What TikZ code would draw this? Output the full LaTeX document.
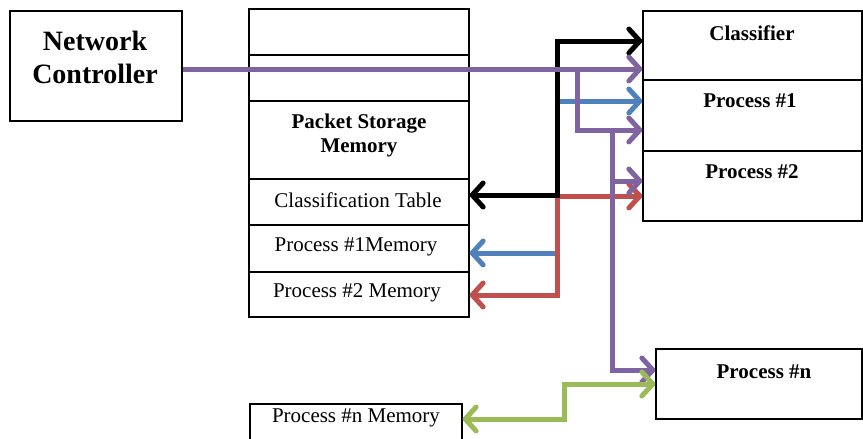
\documentclass[tikz,border=0pt]{standalone}
\usepackage{fontspec}
\setmainfont{Liberation Serif}
\usetikzlibrary{arrows.meta}
\definecolor{cpurple}{RGB}{128,100,162}
\definecolor{cblue}{RGB}{79,129,189}
\definecolor{cred}{RGB}{192,80,77}
\definecolor{cgreen}{RGB}{155,187,89}
\begin{document}
\begin{tikzpicture}[x=1pt,y=-1pt,
  box/.style={draw=black,line width=1.3pt,rectangle,inner sep=0pt},
  lbl/.style={font=\fontsize{21}{24}\selectfont,align=center,inner sep=0pt},
  blbl/.style={font=\fontsize{21}{24}\selectfont\bfseries,align=center,inner sep=0pt},
  biglbl/.style={font=\fontsize{28}{33}\selectfont\bfseries,align=center,inner sep=0pt},
  conn/.style={line width=5pt,line join=miter},
  >={Straight Barb[round,length=11pt,width=24pt]}
]
\useasboundingbox (0,0) rectangle (863,439);

% Network controller
\node[box,minimum width=172pt,minimum height=110pt] (nc) at (96,66) {};
\node[biglbl] (ncT) at (95,57) {Network\\Controller};

% memory stack
\node[box,minimum width=220pt,minimum height=46pt] (m0) at (359,32) {};
\node[box,minimum width=220pt,minimum height=46pt] (m1) at (359,78) {};
\node[box,minimum width=220pt,minimum height=78pt] (m2) at (359,140) {};
\node[box,minimum width=220pt,minimum height=46pt] (m3) at (359,202) {};
\node[box,minimum width=220pt,minimum height=47pt] (m4) at (359,248.5) {};
\node[box,minimum width=220pt,minimum height=45pt] (m5) at (359,294.5) {};
\node[blbl] (m2T) at (359,135) {Packet Storage\\Memory};
\node[lbl] (m3T) at (358,200) {Classification Table};
\node[lbl] (m4T) at (356,247) {Process \#1Memory};
\node[lbl] (m5T) at (357,293) {Process \#2 Memory};

% right boxes
\node[box,minimum width=219pt,minimum height=69pt] (cls) at (752.5,45.5) {};
\node[box,minimum width=219pt,minimum height=71pt] (p1) at (752.5,115.5) {};
\node[box,minimum width=219pt,minimum height=70pt] (p2) at (752.5,186) {};
\node[blbl] (clsT) at (752,33) {Classifier};
\node[blbl] (p1T) at (750,101) {Process \#1};
\node[blbl] (p2T) at (752,172) {Process \#2};

\node[box,minimum width=206pt,minimum height=70pt] (pn) at (759,384) {};
\node[blbl] (pnT) at (764,372) {Process \#n};

\node[box,minimum width=212pt,minimum height=38pt] (pnm) at (356,423) {};
\node[lbl] (pnmT) at (356,418) {Process \#n Memory};

% bend coordinates
\coordinate (busTop) at (557,41);
\coordinate (busCT) at (557,195);
\coordinate (busB1) at (557,101);
\coordinate (busB2) at (557,253);
\coordinate (busR1) at (557,196);
\coordinate (busR2) at (557,295);
\coordinate (pv1) at (577,69);
\coordinate (pv2) at (577,130);
\coordinate (pv3) at (612,130);
\coordinate (pv4) at (612,370);
\coordinate (pv5) at (612,181);
\coordinate (g1) at (564,419);
\coordinate (g2) at (564,384);

% blue
\draw[conn,cblue,<->] (m4.east |- busB2) -- (busB2) -- (busB1) -- (p1.west |- busB1);
% red
\draw[conn,cred,<->] (m5.east |- busR2) -- (busR2) -- (busR1) -- (p2.west |- busR1);
% black
\draw[conn,black,<->] (m3.east |- busCT) -- (busCT) -- (busTop) -- (cls.west |- busTop);
% purple
\draw[conn,cpurple,->] (nc.east |- pv1) -- (cls.west |- pv1);
\draw[conn,cpurple,->] (pv1) -- (pv2) -- (p1.west |- pv2);
\draw[conn,cpurple,->] (pv3) -- (pv4) -- (pn.west |- pv4);
\draw[conn,cpurple,->] (pv5) -- (p2.west |- pv5);
% green
\draw[conn,cgreen,<->] (pnm.east |- g1) -- (g1) -- (g2) -- (pn.west |- g2);
\end{tikzpicture}
\end{document}
